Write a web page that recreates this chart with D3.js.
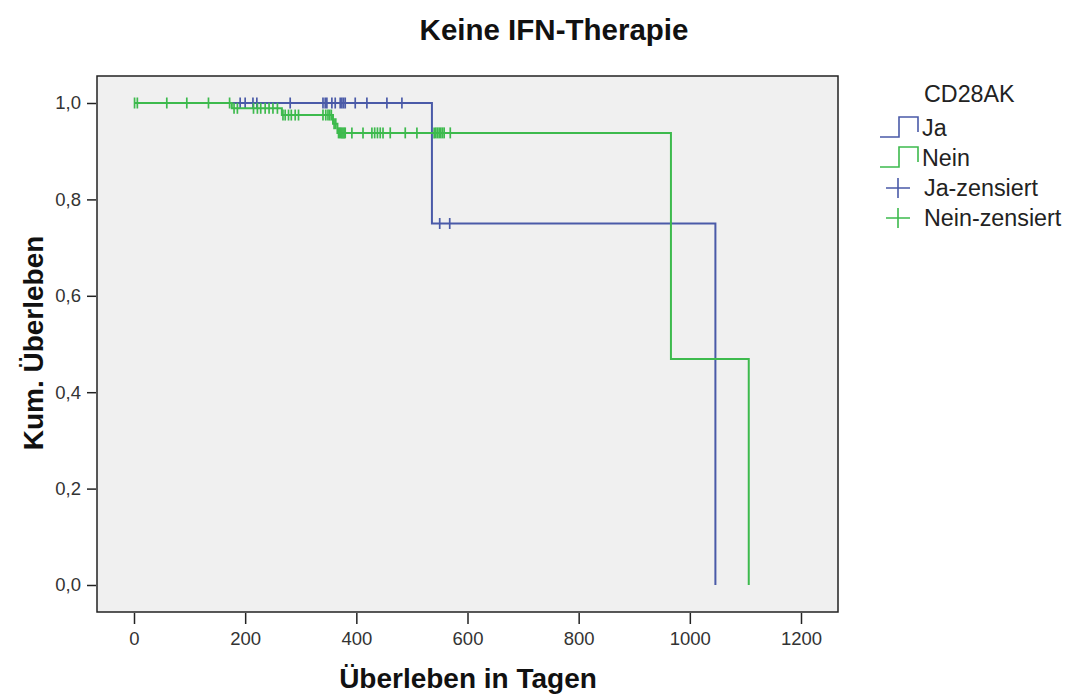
<!DOCTYPE html>
<html>
<head>
<meta charset="utf-8">
<script src="https://cdn.jsdelivr.net/npm/d3@7"></script>
<style>
  html, body { margin: 0; padding: 0; background: #fff; }
  svg { display: block; font-family: "Liberation Sans", Arial, sans-serif; }
</style>
</head>
<body>
<svg id="chart" width="1068" height="695"></svg>
<script>
// Kaplan-Meier steps: survival level from each time onward
const jaStepTimes = [0, 536, 1046];
const jaStepSurv = [1.0, 0.75, 0.0];
const jaCensorTimes = [191, 200, 214, 221, 281, 340, 344, 347, 356, 362, 371, 374, 377, 380, 398, 419, 455, 482, 550, 568];

const neinStepTimes = [0, 176, 266, 358, 366, 966, 1106];
const neinStepSurv = [1.0, 0.989, 0.975, 0.957, 0.938, 0.469, 0.0];
const neinCensorTimes = [1, 6, 59, 95, 134, 172, 180, 186, 215, 222, 228, 236, 243, 250, 258,
  268, 272, 278, 283, 290, 296, 340, 345, 349, 352, 355, 360, 363,
  368, 370, 372, 374, 376, 378, 380, 392, 412, 428, 433, 438, 443, 448, 461, 488, 509,
  540, 543, 546, 549, 552, 555, 558, 569];

const xTicks = [0, 200, 400, 600, 800, 1000, 1200];
const yTicks = [0, 0.2, 0.4, 0.6, 0.8, 1.0];

const groupNames = ["Ja", "Nein"];
const legendTitle = "CD28AK";
const chartTitle = "Keine IFN-Therapie";
const xTitle = "Überleben in Tagen";
const yTitle = "Kum. Überleben";

const colors = { Ja: "#4a5aa8", Nein: "#3dba4d" };

const svg = d3.select("#chart");

const frame = { left: 97, right: 838, top: 76, bottom: 612 };
const x = d3.scaleLinear().domain([0, 1200]).range([134, 801]);
const y = d3.scaleLinear().domain([0, 1]).range([585, 103]);

// plot area
svg.append("rect")
  .attr("x", frame.left).attr("y", frame.top)
  .attr("width", frame.right - frame.left).attr("height", frame.bottom - frame.top)
  .attr("fill", "#f0f0f0").attr("stroke", "#222").attr("stroke-width", 1.5);

// x axis
const xAxis = d3.axisBottom(x).tickValues(xTicks).tickSize(11).tickPadding(8)
  .tickFormat(d3.format("d"));
const gx = svg.append("g").attr("transform", `translate(0,${frame.bottom + 1})`).call(xAxis);
gx.select(".domain").remove();
gx.selectAll(".tick line").attr("stroke", "#222").attr("stroke-width", 1.5);
gx.selectAll(".tick text").attr("font-size", 18.5).attr("fill", "#333")
  .attr("font-family", "'Liberation Sans', Arial, sans-serif");

// y axis
const yAxis = d3.axisLeft(y).tickValues(yTicks).tickSize(9).tickPadding(6)
  .tickFormat(d => d3.format(".1f")(d).replace(".", ","));
const gy = svg.append("g").attr("transform", `translate(${frame.left - 1},0)`).call(yAxis);
gy.select(".domain").remove();
gy.selectAll(".tick line").attr("stroke", "#222").attr("stroke-width", 1.5);
gy.selectAll(".tick text").attr("font-size", 18.5).attr("fill", "#333")
  .attr("font-family", "'Liberation Sans', Arial, sans-serif");

// titles
svg.append("text").attr("x", 554).attr("y", 40).attr("text-anchor", "middle")
  .attr("font-size", 29.5).attr("font-weight", "bold").attr("fill", "#111").text(chartTitle);
svg.append("text").attr("x", 468).attr("y", 688).attr("text-anchor", "middle")
  .attr("font-size", 28).attr("font-weight", "bold").attr("fill", "#111").text(xTitle);
svg.append("text").attr("transform", "translate(43,343) rotate(-90)").attr("text-anchor", "middle")
  .attr("font-size", 28).attr("font-weight", "bold").attr("fill", "#111").text(yTitle);

// survival curves
const line = d3.line().x(d => x(d[0])).y(d => y(d[1])).curve(d3.curveStepAfter);
function survivalAt(times, surv, t) {
  const i = d3.bisectRight(times, t) - 1;
  return surv[Math.max(0, i)];
}

const groups = [
  { name: "Ja", times: jaStepTimes, surv: jaStepSurv, censor: jaCensorTimes },
  { name: "Nein", times: neinStepTimes, surv: neinStepSurv, censor: neinCensorTimes }
];

groups.forEach(g => {
  const pts = g.times.map((t, i) => [t, g.surv[i]]);
  svg.append("path").datum(pts)
    .attr("d", line).attr("fill", "none")
    .attr("stroke", colors[g.name]).attr("stroke-width", 2);
  svg.append("g").selectAll("line").data(g.censor).join("line")
    .attr("x1", d => x(d)).attr("x2", d => x(d))
    .attr("y1", d => y(survivalAt(g.times, g.surv, d)) - 5.5)
    .attr("y2", d => y(survivalAt(g.times, g.surv, d)) + 5.5)
    .attr("stroke", colors[g.name]).attr("stroke-width", 1.7);
});

// legend
const leg = svg.append("g").attr("font-size", 23.3).attr("fill", "#222");
leg.append("text").attr("x", 924).attr("y", 102).text(legendTitle);
groupNames.forEach((name, i) => {
  const base = 137 + i * 30;
  leg.append("path")
    .attr("d", `M880,${base}H899V${base - 20}H918V${base - 5}`)
    .attr("fill", "none").attr("stroke", colors[name]).attr("stroke-width", 1.6);
  leg.append("text").attr("x", 922).attr("y", base - 1).text(name);
});
groupNames.forEach((name, i) => {
  const cy = 188 + i * 30;
  leg.append("path")
    .attr("d", `M886,${cy}H910M898,${cy - 10}V${cy + 10}`)
    .attr("fill", "none").attr("stroke", colors[name]).attr("stroke-width", 1.6);
  leg.append("text").attr("x", 924).attr("y", cy + 8).text(name + "-zensiert");
});
</script>
</body>
</html>
